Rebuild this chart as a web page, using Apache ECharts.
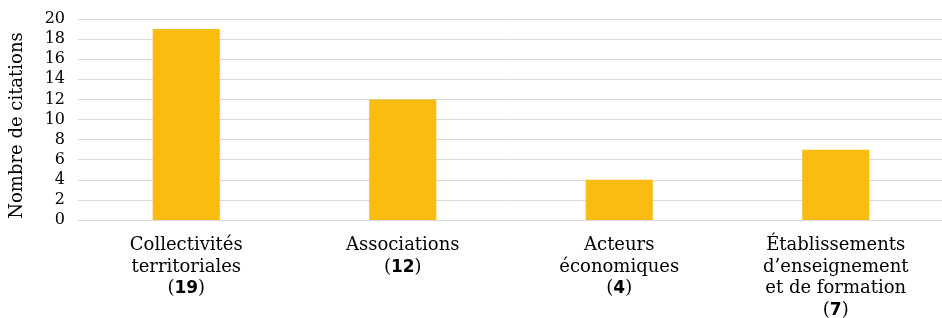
<!DOCTYPE html>
<html>
<head>
<meta charset="utf-8">
<script src="https://cdn.jsdelivr.net/npm/echarts@6/dist/echarts.min.js"></script>
<style>
html, body { margin: 0; padding: 0; background: #fff; }
#chart { width: 942px; height: 318px; }
</style>
</head>
<body>
<div id="chart"></div>
<script>
var categories = ['Collectivités\nterritoriales', 'Associations', 'Acteurs\néconomiques', 'Établissements\nd’enseignement\net de formation'];
var citations = [19, 12, 4, 7];
var yTicks = { min: 0, max: 20, interval: 2 };

var font = '"DejaVu Serif", "Liberation Serif", serif';

var dom = document.getElementById('chart');
var myChart = echarts.init(dom);
var option = {
    animation: false,
    grid: {
        left: 78,
        right: -2,
        top: 19,
        bottom: 98,
        outerBoundsMode: 'none'
    },
    xAxis: {
        type: 'category',
        data: categories,
        axisTick: { show: false },
        axisLine: { lineStyle: { color: '#d9d9d9', width: 1 } },
        axisLabel: {
            interval: 0,
            margin: 15,
            color: '#000',
            fontFamily: font,
            fontSize: 18,
            lineHeight: 21.5,
            formatter: function (value, idx) {
                // le nombre de citations en gras sur la dernière ligne
                return value + '\n({b|' + citations[idx] + '})';
            },
            rich: {
                b: {
                    fontFamily: '"DejaVu Sans", sans-serif',
                    fontWeight: 'bold',
                    fontSize: 17,
                    lineHeight: 21.5,
                    color: '#000'
                }
            }
        }
    },
    yAxis: {
        type: 'value',
        min: yTicks.min,
        max: yTicks.max,
        interval: yTicks.interval,
        name: 'Nombre de citations',
        nameLocation: 'middle',
        nameGap: 52,
        nameTextStyle: { color: '#000', fontFamily: font, fontSize: 18, padding: [0, 12, 0, 0] },
        axisLine: { show: false },
        axisTick: { show: false },
        axisLabel: { color: '#000', fontFamily: font, fontSize: 16, margin: 13 },
        splitLine: { lineStyle: { color: '#d9d9d9', width: 1 } }
    },
    series: [{
        type: 'bar',
        data: citations,
        barWidth: '31%',
        itemStyle: { color: '#fbbc12' }
    }]
};
myChart.setOption(option, true);
</script>
</body>
</html>
